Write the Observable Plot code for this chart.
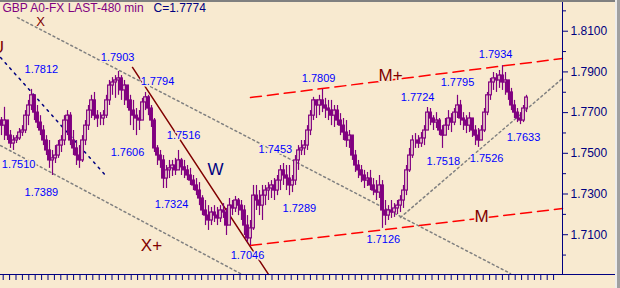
<!DOCTYPE html>
<html><head><meta charset="utf-8">
<script src="https://cdn.jsdelivr.net/npm/d3@7"></script>
<script src="https://cdn.jsdelivr.net/npm/@observablehq/plot@0.6"></script>
<style>
html,body{margin:0;padding:0;background:#f8ead0;}
#wrap{position:relative;width:620px;height:288px;overflow:hidden;background:#f8ead0;}
#wrap:before{content:"";position:absolute;left:0;top:0;width:620px;height:2px;background:#808080;z-index:2;}
#wrap:after{content:"";position:absolute;right:0;top:0;width:3px;height:288px;background:#a0a0a0;border-left:2px solid #ececec;z-index:2;}
svg{display:block;}
</style></head><body><div id="wrap"></div>
<script>
// ---- data (480-min bars, GBP A0-FX) ----
const firstOpen = 1.7661;
const closes = [
1.7636,1.7661,1.7587,1.7548,1.7563,1.7573,1.7602,1.7612,1.7685,1.7735,
1.7785,1.7700,1.7651,1.7612,1.7563,1.7514,1.7465,1.7475,1.7489,1.7538,
1.7563,1.7661,1.7685,1.7563,1.7524,1.7489,1.7465,1.7563,1.7636,1.7710,
1.7760,1.7685,1.7671,1.7671,1.7685,1.7760,1.7833,1.7848,1.7858,1.7868,
1.7809,1.7833,1.7760,1.7710,1.7685,1.7671,1.7661,1.7750,1.7775,1.7720,
1.7661,1.7524,1.7489,1.7465,1.7376,1.7416,1.7426,1.7440,1.7416,1.7465,
1.7431,1.7416,1.7391,1.7366,1.7342,1.7317,1.7278,1.7219,1.7194,1.7170,
1.7209,1.7194,1.7180,1.7219,1.7209,1.7145,1.7243,1.7229,1.7268,1.7243,
1.7219,1.7145,1.7082,1.7131,1.7292,1.7268,1.7243,1.7292,1.7317,1.7327,
1.7342,1.7317,1.7366,1.7416,1.7391,1.7376,1.7342,1.7366,1.7465,1.7514,
1.7524,1.7538,1.7612,1.7685,1.7760,1.7735,1.7760,1.7735,1.7720,1.7710,
1.7685,1.7710,1.7661,1.7636,1.7602,1.7563,1.7587,1.7489,1.7440,1.7416,
1.7391,1.7366,1.7376,1.7342,1.7317,1.7307,1.7342,1.7219,1.7194,1.7219,
1.7209,1.7229,1.7243,1.7268,1.7317,1.7416,1.7489,1.7563,1.7563,1.7548,
1.7573,1.7612,1.7700,1.7671,1.7651,1.7661,1.7612,1.7587,1.7636,1.7671,
1.7651,1.7700,1.7735,1.7671,1.7661,1.7636,1.7671,1.7612,1.7587,1.7563,
1.7612,1.7700,1.7785,1.7848,1.7868,1.7858,1.7882,1.7848,1.7858,1.7799,
1.7735,1.7700,1.7671,1.7661,1.7720,1.7774];
const highs = [
1.7676,1.7726,1.7661,1.7612,1.7587,1.7587,1.7622,1.7636,1.7710,1.7760,
1.7814,1.7785,1.7735,1.7685,1.7636,1.7587,1.7563,1.7514,1.7538,1.7563,
1.7587,1.7685,1.7710,1.7700,1.7612,1.7563,1.7538,1.7587,1.7661,1.7735,
1.7785,1.7799,1.7710,1.7700,1.7710,1.7785,1.7858,1.7872,1.7882,1.7902,
1.7882,1.7858,1.7833,1.7785,1.7760,1.7720,1.7710,1.7770,1.7799,1.7785,
1.7735,1.7671,1.7538,1.7514,1.7489,1.7440,1.7465,1.7465,1.7475,1.7514,
1.7475,1.7465,1.7440,1.7426,1.7391,1.7376,1.7356,1.7292,1.7268,1.7243,
1.7234,1.7243,1.7234,1.7243,1.7253,1.7229,1.7278,1.7268,1.7288,1.7278,
1.7268,1.7243,1.7194,1.7170,1.7342,1.7342,1.7317,1.7342,1.7342,1.7356,
1.7366,1.7376,1.7391,1.7440,1.7450,1.7440,1.7440,1.7391,1.7489,1.7538,
1.7563,1.7563,1.7636,1.7710,1.7775,1.7760,1.7785,1.7814,1.7770,1.7760,
1.7760,1.7735,1.7735,1.7695,1.7671,1.7661,1.7612,1.7563,1.7514,1.7465,
1.7440,1.7416,1.7406,1.7416,1.7376,1.7366,1.7391,1.7366,1.7268,1.7243,
1.7268,1.7253,1.7268,1.7292,1.7342,1.7440,1.7524,1.7587,1.7597,1.7587,
1.7602,1.7636,1.7725,1.7720,1.7685,1.7700,1.7671,1.7636,1.7671,1.7710,
1.7695,1.7720,1.7785,1.7760,1.7700,1.7685,1.7700,1.7671,1.7636,1.7622,
1.7636,1.7720,1.7799,1.7868,1.7897,1.7892,1.7907,1.7931,1.7897,1.7858,
1.7819,1.7760,1.7720,1.7700,1.7735,1.7785];
const lows = [
1.7587,1.7563,1.7563,1.7524,1.7514,1.7548,1.7563,1.7583,1.7597,1.7636,
1.7710,1.7661,1.7622,1.7587,1.7538,1.7489,1.7426,1.7391,1.7450,1.7475,
1.7504,1.7538,1.7587,1.7538,1.7489,1.7440,1.7426,1.7455,1.7538,1.7612,
1.7671,1.7661,1.7627,1.7636,1.7636,1.7671,1.7735,1.7785,1.7770,1.7785,
1.7760,1.7735,1.7720,1.7636,1.7612,1.7587,1.7612,1.7671,1.7710,1.7685,
1.7627,1.7504,1.7440,1.7426,1.7327,1.7327,1.7376,1.7386,1.7391,1.7416,
1.7391,1.7376,1.7366,1.7342,1.7317,1.7292,1.7243,1.7194,1.7145,1.7121,
1.7145,1.7160,1.7145,1.7160,1.7180,1.7096,1.7170,1.7194,1.7209,1.7194,
1.7170,1.7096,1.7062,1.7047,1.7121,1.7219,1.7194,1.7170,1.7243,1.7268,
1.7278,1.7268,1.7292,1.7317,1.7342,1.7317,1.7292,1.7307,1.7342,1.7416,
1.7489,1.7489,1.7514,1.7587,1.7661,1.7671,1.7685,1.7700,1.7671,1.7661,
1.7636,1.7627,1.7636,1.7587,1.7563,1.7529,1.7524,1.7465,1.7406,1.7376,
1.7356,1.7327,1.7337,1.7317,1.7292,1.7268,1.7278,1.7131,1.7145,1.7170,
1.7180,1.7185,1.7199,1.7209,1.7229,1.7292,1.7406,1.7475,1.7524,1.7524,
1.7529,1.7538,1.7612,1.7636,1.7612,1.7622,1.7587,1.7524,1.7587,1.7612,
1.7602,1.7636,1.7671,1.7636,1.7612,1.7597,1.7602,1.7578,1.7538,1.7529,
1.7563,1.7602,1.7685,1.7760,1.7809,1.7799,1.7819,1.7809,1.7785,1.7760,
1.7710,1.7671,1.7651,1.7641,1.7651,1.7700];

// price labels: text, bar position, price level of the label
const labelText = ["1.7812","1.7903","1.7794","1.7510","1.7389","1.7606","1.7516","1.7453","1.7324","1.7046","1.7289","1.7809","1.7126","1.7724","1.7795","1.7518","1.7526","1.7934","1.7633"];
const labelBar  = [13.3,38.7,52,5.7,13.3,42,60.7,91.3,56.7,82,99.3,105.7,127.3,138.7,152,147.3,161.7,164.7,174];
const labelAt   = [1.7912,1.7971,1.7853,1.7445,1.7308,1.7504,1.7588,1.7519,1.7249,1.6998,1.7229,1.7868,1.7077,1.7774,1.7848,1.7460,1.7475,1.7986,1.7578];

// wave letters
const waveText = ["U","X+","M+","M"];
const waveBar  = [-1.2,50,129.7,160];
const waveAt   = [1.8020,1.7047,1.7882,1.7190];
const topText = ["X"], topBar = [13], topAt = [1.8146];
const wText = ["W"], wBar = [71.3], wAt = [1.7421];

// trend lines (bar, price)
const blueDotted = [{bar:-0.33, price:1.7971},{bar:35.33, price:1.7381}];
const grayUpper  = [{bar:5.33, price:1.8167},{bar:169.67, price:1.6909}];
const grayLower  = [{bar:-0.33, price:1.7538},{bar:79.67, price:1.6909}];
const grayRising = [{bar:133, price:1.7185},{bar:187, price:1.7868}];
const maroonLine = [{bar:43.67, price:1.7922},{bar:89, price:1.6905}];
const channelTop = [{bar:83, price:1.7774},{bar:187, price:1.7966}];
const channelBot = [{bar:83, price:1.7047},{bar:187, price:1.7229}];

// axis ticks
const yMajor = [1.71,1.73,1.75,1.77,1.79,1.81];
const yMinor = [1.70,1.72,1.74,1.76,1.78,1.80,1.82];
const title = "GBP A0-FX LAST-480 min";
const lastLabel = "C=1.7774";

// ---- chart ----
const BG = "#f8ead0", PURPLE = "#800080", NAVY = "#000080";
const xDom = [-1/3, 187], yDom = [1.69045, 1.82509];
const xTicks = d3.range(87).map(k => 0.567 + k * 2.1333);
const bars = closes.map((c, i) => ({i, open: i ? closes[i-1] : firstOpen, close: c, high: highs[i], low: lows[i]}));
const labels = labelText.map((t, k) => ({t, bar: labelBar[k], at: labelAt[k]}));
const waves = waveText.map((t, k) => ({t, bar: waveBar[k], at: waveAt[k]}));
const topX = topText.map((t, k) => ({t, bar: topBar[k], at: topAt[k]}));
const wl = wText.map((t, k) => ({t, bar: wBar[k], at: wAt[k]}));

const chart = Plot.plot({
  width: 620, height: 288,
  marginTop: 0, marginRight: 58, marginBottom: 14, marginLeft: 0,
  style: {background: "transparent", color: NAVY, fontFamily: "'Liberation Sans', Arial, sans-serif", fontSize: "12px"},
  x: {domain: xDom, axis: null},
  y: {domain: yDom, axis: null},
  marks: [
    Plot.line(grayUpper, {x: "bar", y: "price", stroke: "#808080", strokeDasharray: "2,3"}),
    Plot.line(grayLower, {x: "bar", y: "price", stroke: "#808080", strokeDasharray: "2,3"}),
    Plot.line(grayRising, {x: "bar", y: "price", stroke: "#808080", strokeDasharray: "2,3"}),
    Plot.line(blueDotted, {x: "bar", y: "price", stroke: NAVY, strokeDasharray: "2,5"}),
    Plot.line(maroonLine, {x: "bar", y: "price", stroke: "#800000"}),
    Plot.line(channelTop, {x: "bar", y: "price", stroke: "#ff0000", strokeWidth: 1.5, strokeDasharray: "11,6"}),
    Plot.line(channelBot, {x: "bar", y: "price", stroke: "#ff0000", strokeWidth: 1.5, strokeDasharray: "11,6"}),
    Plot.ruleX(bars, {x: "i", y1: "low", y2: "high", stroke: PURPLE, strokeWidth: 1.2}),
    Plot.rect(bars, {x1: d => d.i - 0.45, x2: d => d.i + 0.45, y1: "open", y2: "close",
      fill: d => d.close >= d.open ? BG : PURPLE, stroke: PURPLE, strokeWidth: 1.2}),
    Plot.text(labels, {x: "bar", y: "at", text: "t", fill: "#0000ff", fontSize: 11,
      textAnchor: "middle", lineAnchor: "middle", stroke: BG, strokeWidth: 3}),
    Plot.text(waves, {x: "bar", y: "at", text: "t", fill: "#800000", fontSize: 17,
      textAnchor: "middle", lineAnchor: "middle", stroke: BG, strokeWidth: 3}),
    Plot.text(topX, {x: "bar", y: "at", text: "t", fill: "#800000", fontSize: 13,
      textAnchor: "middle", lineAnchor: "middle"}),
    Plot.text(wl, {x: "bar", y: "at", text: "t", fill: NAVY, fontSize: 17,
      textAnchor: "middle", lineAnchor: "middle"}),
    Plot.ruleX([xDom[1]], {y1: yDom[0], y2: yDom[1], stroke: NAVY}),
    Plot.ruleY([yDom[0]], {x1: xDom[0], x2: 204.67, stroke: NAVY}),
    Plot.axisY(yMajor, {anchor: "right", tickSize: 5, tickPadding: 3, tickFormat: d3.format(".4f"), fontSize: 12}),
    Plot.axisY(yMinor, {anchor: "right", tickSize: 3, tickFormat: () => ""}),
    Plot.axisX(xTicks, {anchor: "bottom", tickSize: 6, tickFormat: () => ""}),
    Plot.text([title], {text: d => d, frameAnchor: "top-left", dx: 2, dy: 3, textAnchor: "start", lineAnchor: "top", fill: PURPLE, fontSize: 12}),
    Plot.text([lastLabel], {text: d => d, frameAnchor: "top-left", dx: 153, dy: 3, textAnchor: "start", lineAnchor: "top", fill: NAVY, fontSize: 12})
  ]
});
document.getElementById("wrap").appendChild(chart);
</script></body></html>
